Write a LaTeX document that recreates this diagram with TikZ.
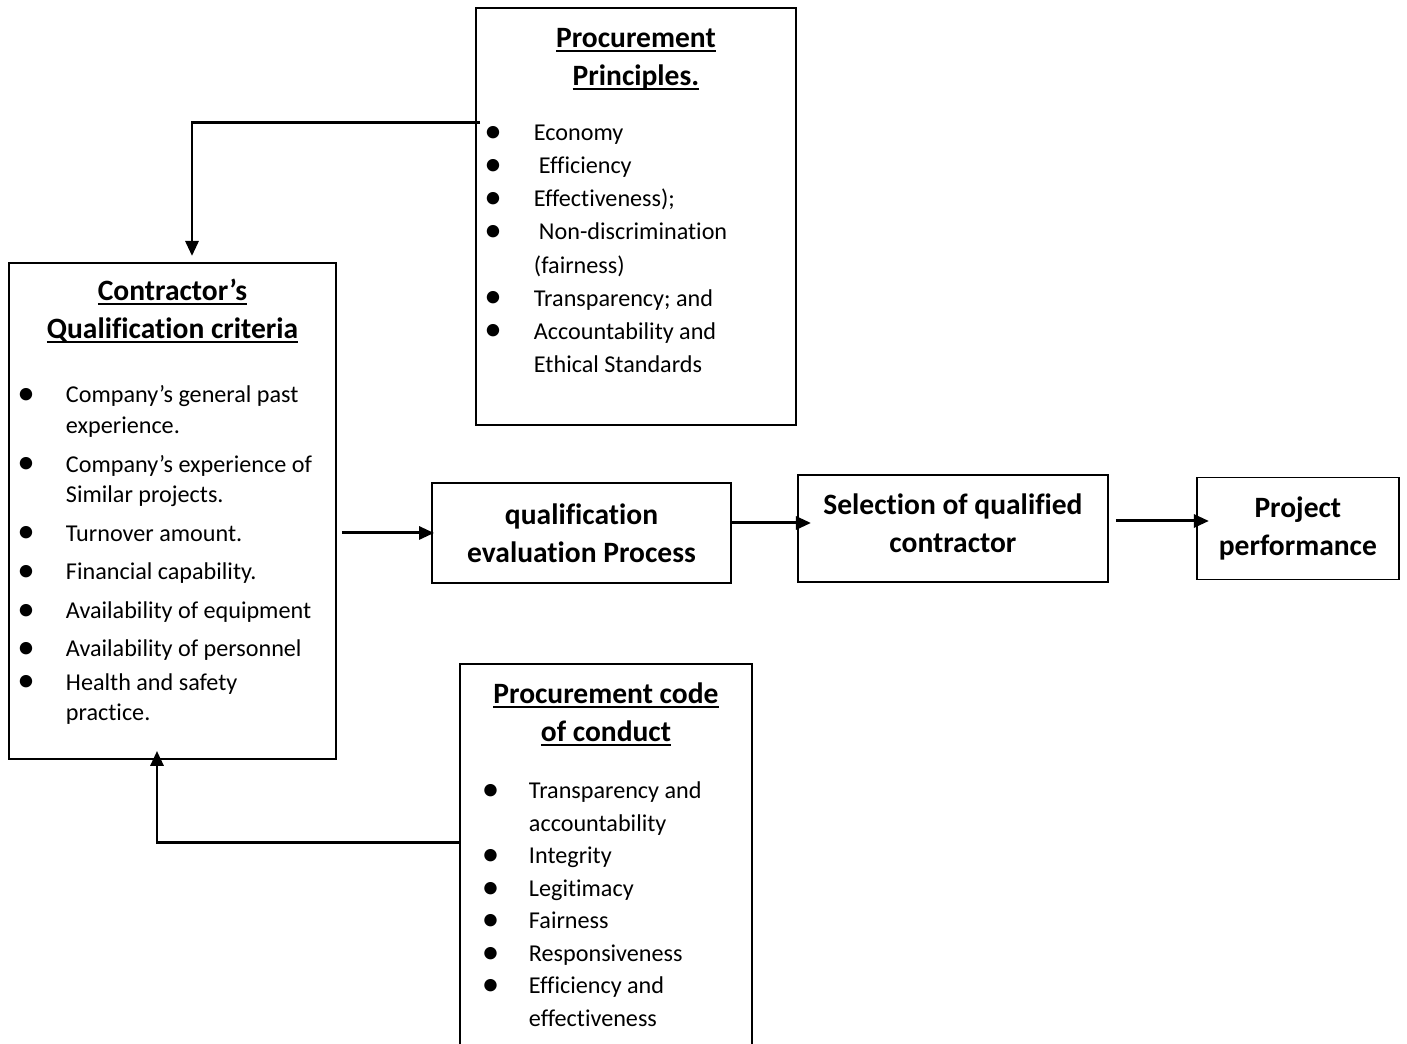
\documentclass[tikz,border=0pt]{standalone}
\usepackage{fontspec}
\setmainfont{Carlito}[Ligatures=CommonOff]
\usetikzlibrary{arrows.meta,positioning}

\newcommand{\titlefont}{\fontsize{16.8}{21.6}\selectfont\bfseries}
\newlength{\bulin}
\newlength{\txtin}
\newlength{\itemgap}
\newcommand{\undl}[1]{\leavevmode\setbox0=\hbox{#1}\rlap{\rule[-2.4pt]{\wd0}{1.1pt}}\box0}
\newcommand{\bigbullet}{\raisebox{-0.07em}{\scalebox{1.45}{\textbullet}}}
\newcommand{\bitem}[1]{\par\vspace{\itemgap}\noindent\hangindent=\txtin\hangafter=1%
  \makebox[\txtin][l]{\hspace{\bulin}\bigbullet}\strut#1\par}
% panel: framed minipage, title on top, bullet list below
\newcommand{\panel}[5]{\begin{minipage}[t][#2][t]{#1}\lineskiplimit=-100pt\raggedright
  \vspace*{#3}{\titlefont\centering\strut#4\par}#5\end{minipage}}

\begin{document}
\begin{tikzpicture}[
    panel/.style={draw, line width=1.1pt, inner sep=0pt, anchor=north west},
    stepbox/.style={draw, line width=1.1pt, inner sep=0pt, align=center, font=\titlefont},
    arrow/.style={-{Triangle[length=0.3cm,width=0.26cm]}, line width=1.7pt}
]
    \useasboundingbox (0,0) rectangle (28.14,20.88);

    \node[panel] (principles) at (9.5,20.74) {\panel{6.4cm}{8.34cm}{0.267cm}
        {\undl{Procurement}\\\undl{Principles.}}
        {\vspace{0.44cm}\fontsize{13.75}{18.8}\selectfont
         \setlength{\bulin}{0.17cm}\setlength{\txtin}{1.16cm}\setlength{\itemgap}{0pt}%
         \bitem{Economy}
         \bitem{\hspace{0.1cm}Efficiency}
         \bitem{Effectiveness);}
         \bitem{\hspace{0.1cm}Non-discrimination\newline(fairness)}
         \bitem{Transparency; and}
         \bitem{Accountability and\newline Ethical Standards}}};

    \node[panel] (contractor) at (0.16,15.64) {\panel{6.54cm}{9.92cm}{0.227cm}
        {\undl{Contractor’s}\\\undl{Qualification criteria}}
        {\vspace{0.51cm}\fontsize{13.75}{17.4}\selectfont
         \setlength{\bulin}{0.17cm}\setlength{\txtin}{1.14cm}\setlength{\itemgap}{0.16cm}%
         \bitem{Company’s general past\newline experience.}
         \bitem{Company’s experience of\newline Similar projects.}
         \bitem{Turnover amount.}
         \bitem{Financial capability.}
         \bitem{Availability of equipment}
         \bitem{Availability of personnel}
         \setlength{\itemgap}{0.05cm}%
         \bitem{Health and safety\newline practice.}}};

    \node[panel] (code) at (9.18,7.62) {\panel{5.84cm}{8.2cm}{0.267cm}
        {\undl{Procurement code}\\\undl{of conduct}}
        {\vspace{0.49cm}\fontsize{13.75}{18.5}\selectfont
         \setlength{\bulin}{0.44cm}\setlength{\txtin}{1.38cm}\setlength{\itemgap}{0pt}%
         \bitem{Transparency and\newline accountability}
         \bitem{Integrity}
         \bitem{Legitimacy}
         \bitem{Fairness}
         \bitem{Responsiveness}
         \bitem{Efficiency and\newline effectiveness}}};

    \node[stepbox, minimum width=5.98cm, minimum height=2cm] (eval) at (11.63,10.22) {qualification\\evaluation Process};
    \node[stepbox, minimum width=6.2cm, minimum height=2.14cm, text depth=0.2cm, right=1.3cm of eval, yshift=0.09cm] (select) {Selection of qualified\\contractor};
    \node[stepbox, minimum width=4.04cm, minimum height=2.04cm, right=1.74cm of select] (project) {Project\\performance};

    \draw[arrow] ([xshift=0.1cm,yshift=-2.32cm]principles.north west) -| ([xshift=3.68cm,yshift=0.12cm]contractor.north west);
    \draw[arrow] ([xshift=0.1cm]contractor.east |- eval.west) -- ([xshift=0.06cm]eval.west);
    \draw[arrow] ([yshift=0.2cm]eval.east) -- ([xshift=0.28cm,yshift=0.2cm]eval.east -| select.west);
    \draw[arrow] ([xshift=0.14cm,yshift=0.15cm]select.east) -- ([xshift=0.26cm,yshift=0.15cm]select.east -| project.west);
    \draw[arrow] ([yshift=-3.6cm]code.north west) -| ([xshift=2.98cm,yshift=0.18cm]contractor.south west);
\end{tikzpicture}
\end{document}
